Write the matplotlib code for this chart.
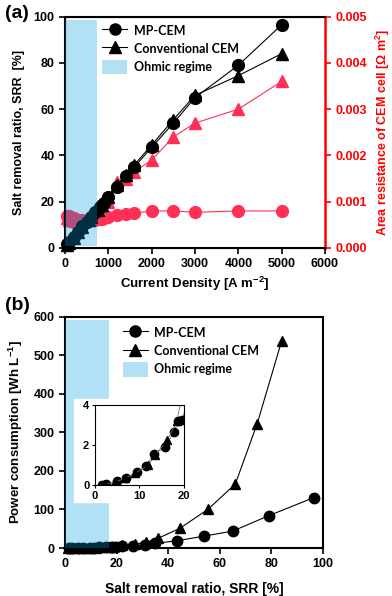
import numpy as np
import matplotlib.pyplot as plt
from matplotlib.patches import Patch, Rectangle
from matplotlib.lines import Line2D

plt.rcParams['font.family'] = ['Liberation Sans', 'DejaVu Sans']
plt.rcParams['font.weight'] = 'bold'
plt.rcParams['axes.labelweight'] = 'bold'
plt.rcParams['font.size'] = 9
plt.rcParams['mathtext.fontset'] = 'custom'
plt.rcParams['mathtext.rm'] = 'Liberation Sans:bold'
plt.rcParams['mathtext.bf'] = 'Liberation Sans:bold'
plt.rcParams['mathtext.default'] = 'bf'

# MP-CEM
cd_mp = [50, 100, 200, 300, 400, 500, 600, 700, 800, 850, 900, 1000,
         1200, 1400, 1600, 2000, 2500, 3000, 4000, 5000]
srr_mp = [1.5, 2.6, 4.9, 7.1, 9.5, 11.4, 13.3, 15.7, 17.8, 18.7, 19.6, 22,
          26.5, 31, 35, 43.5, 54, 65, 79, 96.5]
res_mp = [0.0007, 0.00068, 0.00064, 0.0006, 0.0006, 0.00058, 0.0006, 0.0006,
          0.00062, 0.00063, 0.00065, 0.00067, 0.00071, 0.00073, 0.00075,
          0.0008, 0.0008, 0.00077, 0.0008, 0.0008]
pw_mp = [0.03, 0.05, 0.2, 0.38, 0.66, 0.95, 1.55, 1.89, 2.64, 3.2, 3.28, 5,
         6, 8, 12, 19, 31, 44, 84, 131]

# Conventional CEM
cd_cv = [50, 100, 200, 300, 400, 550, 600, 750, 850, 1000,
         1200, 1400, 1600, 2000, 2500, 3000, 4000, 5000]
srr_cv = [1.2, 2.2, 4.5, 6.8, 9.0, 12.0, 13.5, 16.3, 18.4, 22,
          27, 31.5, 36, 44.5, 55.5, 66, 74.5, 84]
res_cv = [0.00065, 0.0006, 0.00058, 0.00057, 0.00058, 0.0006, 0.00062, 0.00065,
          0.0007, 0.001, 0.00142, 0.0015, 0.00165, 0.0019, 0.0024, 0.0027,
          0.003, 0.0036]
pw_cv = [0.02, 0.05, 0.15, 0.35, 0.6, 1.0, 1.5, 2.25, 3.2, 7,
         10, 15, 25, 51, 101, 166, 323, 538]

red = '#ff2f55'
span_c = (0.0, 0.6, 0.87)
leg_font = {'family': 'Lato', 'weight': 'bold', 'size': 9}

fig = plt.figure(figsize=(3.92, 5.96), dpi=100)

# ---------- (a)
ax = fig.add_axes([0.166, 0.584, 0.663, 0.388])
ax2 = ax.twinx()
ax.set_zorder(ax2.get_zorder() + 1)
ax.patch.set_visible(False)

ax2.plot(cd_mp, res_mp, '-o', color=red, ms=8.5, lw=0.8, clip_on=False)
ax2.plot(cd_cv, res_cv, '-^', color=red, ms=8.5, lw=0.8, clip_on=False)
ax2.set_ylim(0, 0.005)
ax2.set_yticks(np.arange(0, 0.0051, 0.001))
ax2.yaxis.set_major_formatter(plt.FormatStrFormatter('%.3f'))
ax2.tick_params(axis='y', colors='red', direction='out', length=4, width=1.2)
ax2.spines['right'].set_color('red')
ax2.spines['right'].set_linewidth(1.8)
ax2.set_ylabel(r'Area resistance of CEM cell [$\Omega$ m$^2$]', color='red',
               fontsize=9, labelpad=5)
for t in ax2.get_yticklabels():
    t.set_color('red')

ax.plot(cd_mp, srr_mp, '-o', color='k', ms=8.5, lw=0.8, clip_on=False)
ax.plot(cd_cv, srr_cv, '-^', color='k', ms=8.5, lw=0.8, clip_on=False)
ax.axvspan(0, 740, ymin=0.01, ymax=0.985, color=span_c, alpha=0.3, lw=0, zorder=5)
ax.set_xlim(0, 6000)
ax.set_ylim(0, 100)
ax.set_xticks(range(0, 6001, 1000))
ax.set_yticks(range(0, 101, 20))
ax.tick_params(direction='out', length=4, width=1.2)
for s in ['left', 'bottom', 'top']:
    ax.spines[s].set_linewidth(1.5)
ax.spines['right'].set_visible(False)
ax.set_xlabel(r'Current Density [A m$^{-2}$]', fontsize=9.5, labelpad=3)
ax.set_ylabel('Salt removal ratio, SRR  [%]', fontsize=9, labelpad=6)

handles = [Line2D([], [], color='k', marker='o', ms=8, lw=0.8),
           Line2D([], [], color='k', marker='^', ms=8, lw=0.8),
           Patch(color=span_c, alpha=0.3, lw=0)]
labels = ['MP-CEM', 'Conventional CEM', 'Ohmic regime']
ax.legend(handles, labels, loc='upper left', bbox_to_anchor=(0.1, 1.02),
          frameon=False, prop=leg_font, handlelength=2.0, handleheight=1.4,
          handletextpad=0.5, labelspacing=0.3)
fig.text(0.012, 0.978, '(a)', fontsize=14, fontweight='bold', va='center')

# ---------- (b)
bx = fig.add_axes([0.166, 0.0805, 0.658, 0.388])
bx.plot(srr_mp, pw_mp, '-o', color='k', ms=7.5, lw=0.8, clip_on=False)
bx.plot(srr_cv, pw_cv, '-^', color='k', ms=7.5, lw=0.8, clip_on=False)
bx.axvspan(0, 17, ymin=0, ymax=0.985, color=span_c, alpha=0.3, lw=0, zorder=5)
bx.set_xlim(0, 100)
bx.set_ylim(0, 600)
bx.set_xticks(range(0, 101, 20))
bx.set_yticks(range(0, 601, 100))
bx.tick_params(direction='out', length=4, width=1.2)
for s in bx.spines.values():
    s.set_linewidth(1.5)
bx.set_xlabel('Salt removal ratio, SRR [%]', fontsize=10, labelpad=8)
bx.set_ylabel(r'Power consumption [Wh L$^{-1}$]', fontsize=9.5, labelpad=6)
bx.legend(handles, labels, loc='upper left', bbox_to_anchor=(0.18, 1.01),
          frameon=False, prop=leg_font, handlelength=2.0, handleheight=1.4,
          handletextpad=0.5, labelspacing=0.3)
fig.text(0.012, 0.488, '(b)', fontsize=14, fontweight='bold', va='center')

# white backdrop behind the inset
fig.patches.append(Rectangle((74 / 392, 1 - 502 / 596), 126 / 392, 103 / 596,
                             transform=fig.transFigure, color='white', zorder=2))

ix = fig.add_axes([0.242, 0.186, 0.227, 0.134])
ix.set_zorder(3)
ix.plot(srr_mp, pw_mp, '-o', ms=6, lw=0.6)
ix.plot(srr_cv, pw_cv, '-^', ms=6, lw=0.6)
for ln in ix.lines:
    ln.set_color('0.45')
    ln.set_markerfacecolor('k')
    ln.set_markeredgecolor('k')
ix.set_xlim(0, 20)
ix.set_ylim(0, 4)
ix.set_xticks([0, 10, 20])
ix.set_yticks([0, 2, 4])
ix.tick_params(direction='out', length=2, width=0.8, pad=2, labelsize=8)

fig.savefig('out.png', dpi=100)
